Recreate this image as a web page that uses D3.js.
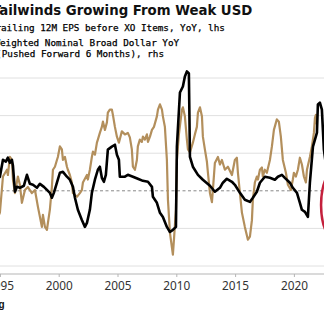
<!DOCTYPE html>
<html><head><meta charset="utf-8">
<script src="https://cdn.jsdelivr.net/npm/d3@7"></script>
<style>html,body{margin:0;padding:0;background:#fff;overflow:hidden}svg{display:block}</style>
</head><body>
<script>
const title = "Tailwinds Growing From Weak USD";
const legendLines = ["Trailing 12M EPS before XO Items, YoY, lhs", "Weighted Nominal Broad Dollar YoY", "(Pushed Forward 6 Months), rhs"];
const source = "Source: Bloomberg";
const xTicks = [1995, 2000, 2005, 2010, 2015, 2020, 2025];
const lhsTicks = [-40, -20, 0, 20, 40, 60];

const epsYears = [1994.74,1995.00,1995.26,1995.51,1995.68,1995.85,1996.02,1996.11,1996.28,1996.45,1996.70,1997.04,1997.30,1997.55,1997.81,1998.15,1998.40,1998.74,1999.00,1999.25,1999.42,1999.59,1999.85,2000.10,2000.36,2000.70,2000.95,2001.21,2001.38,2001.63,2001.97,2002.23,2002.40,2002.65,2002.82,2003.08,2003.33,2003.50,2003.67,2003.84,2004.01,2004.18,2004.52,2004.78,2004.95,2005.12,2005.20,2005.63,2005.88,2006.31,2006.73,2007.16,2007.59,2007.93,2008.01,2008.35,2008.61,2008.86,2009.20,2009.46,2009.71,2009.97,2010.05,2010.31,2010.56,2010.73,2010.90,2011.07,2011.16,2011.41,2011.84,2012.26,2012.86,2013.28,2013.71,2013.96,2014.30,2014.73,2014.98,2015.41,2015.83,2016.26,2016.51,2016.85,2017.11,2017.53,2017.96,2018.38,2018.64,2018.98,2019.23,2019.66,2019.91,2020.26,2020.51,2020.68,2020.94,2021.19,2021.36,2021.62,2021.96,2022.04,2022.21,2022.38,2022.55,2022.72];
const epsValues = [5.9,7.5,16.5,15.5,17.6,14.9,16.5,13.3,-0.5,2.1,1.6,2.7,8.5,3.7,3.2,1.6,3.7,2.1,0.5,-1.1,-3.7,-1.1,4.3,9.6,10.1,7.5,5.9,2.1,-3.7,-10.1,-15.5,-19.2,-17.1,-10.1,-1.1,5.9,11.2,12.8,6.9,4.8,8.5,21.9,23.5,24.5,19.2,16.5,7.5,7.5,8.5,7.5,6.4,5.3,4.8,2.1,-3.2,-6.4,-11.7,-13.9,-19.2,-21.9,-20.8,-19.2,23.5,52.3,55.5,60.8,63.5,62.4,18.1,12.8,8.5,5.9,2.7,-0.5,1.6,4.3,6.4,4.8,3.2,-1.1,-4.8,-5.9,-3.7,-0.5,4.3,7.5,6.9,5.9,7.5,8.5,6.9,4.3,1.6,-1.1,-6.4,-10.1,-11.2,-13.9,4.3,23.5,30.9,45.9,46.9,43.2,21.9,13.9];

const usdYears = [1994.74,1995.00,1995.26,1995.60,1995.68,1995.85,1996.02,1996.11,1996.28,1996.53,1996.70,1996.87,1997.13,1997.38,1997.72,1997.98,1998.23,1998.57,1998.66,1998.83,1999.00,1999.08,1999.25,1999.42,1999.51,1999.68,1999.85,1999.93,2000.10,2000.27,2000.36,2000.53,2000.70,2000.78,2000.95,2001.12,2001.21,2001.55,2001.80,2001.97,2002.06,2002.40,2002.48,2002.65,2002.82,2002.91,2003.08,2003.25,2003.33,2003.50,2003.67,2003.76,2003.93,2004.10,2004.18,2004.35,2004.52,2004.61,2004.78,2004.95,2005.12,2005.37,2005.63,2005.88,2006.05,2006.22,2006.31,2006.48,2006.65,2006.73,2006.90,2007.07,2007.16,2007.33,2007.50,2007.59,2007.76,2007.93,2008.10,2008.35,2008.44,2008.61,2008.78,2008.86,2009.03,2009.20,2009.29,2009.46,2009.71,2009.80,2009.97,2010.05,2010.22,2010.48,2010.56,2010.73,2010.90,2010.99,2011.16,2011.41,2011.58,2011.75,2011.84,2012.01,2012.18,2012.26,2012.43,2012.60,2012.69,2012.86,2013.03,2013.11,2013.28,2013.54,2013.71,2013.88,2014.13,2014.39,2014.73,2014.98,2015.15,2015.24,2015.41,2015.58,2015.83,2016.09,2016.26,2016.43,2016.51,2016.68,2016.85,2016.94,2017.11,2017.28,2017.36,2017.53,2017.70,2017.96,2018.13,2018.30,2018.55,2018.72,2018.89,2019.06,2019.32,2019.49,2019.74,2019.91,2020.00,2020.17,2020.34,2020.51,2020.68,2020.85,2021.02,2021.11,2021.36,2021.53,2021.70,2021.79,2021.87,2021.96];
const usdValues = [-3.9,-2.9,1.9,2.8,2.1,4.5,4.1,1.5,-0.3,1.9,0.8,-1.6,0.1,0.5,-0.3,0.1,-2.1,-4.8,-3.2,-4.8,-5.2,-4.3,-2.5,0.5,2.8,3.2,4.1,4.5,5.9,5.5,4.1,4.5,3.2,2.8,2.1,1.1,-0.3,-0.8,-0.3,0.1,1.1,2.1,1.5,2.8,4.5,5.2,4.8,6.4,6.8,7.7,8.5,9.2,8.1,9.1,10.4,10.8,10.8,10.1,8.5,7.2,6.4,7.9,7.5,7.7,7.1,5.5,3.2,2.8,4.1,5.9,6.8,6.5,7.2,6.8,7.5,6.5,7.2,8.1,8.5,9.9,10.8,11.5,10.8,9.9,8.5,4.1,-1.2,-5.6,-8.5,-6.5,-2.5,4.1,7.5,10.8,11.1,9.9,6.8,5.5,5.1,6.4,7.5,8.5,10.4,11.1,9.9,7.2,5.5,3.9,2.4,-0.3,-1.5,0.1,3.7,4.5,3.5,4.1,2.8,3.2,2.1,4.1,4.4,2.4,-0.3,-2.9,-4.8,-6.5,-6.1,-3.9,-1.2,1.1,1.9,1.5,2.8,3.1,1.9,2.8,2.4,4.1,5.9,8.1,9.5,9.2,7.2,4.1,2.4,0.8,0.1,1.5,2.4,1.9,2.8,4.4,3.5,1.9,1.1,2.8,4.5,5.9,7.7,9.7,10.1,8.8];

const W = 324, H = 321;
const svg = d3.select("body").append("svg").attr("width", W).attr("height", H);

const x = d3.scaleLinear().domain([1995, 2020]).range([-0.1, 293.9]);
const yL = d3.scaleLinear().domain([-40, 60]).range([266, 78]);
const yR = d3.scaleLinear().domain([-10, 15]).range([266, 78]);

// title & legend
svg.append("text").attr("x", -8.1).attr("y", 14.5)
  .attr("font-family", "DejaVu Sans").attr("font-weight", "bold").attr("font-size", 13.3)
  .attr("fill", "#111").text(title);
const legX = [-10.2, -5.6, -3.9], legY = [30.5, 45.5, 56.5];
legendLines.forEach((t, i) => {
  svg.append("text").attr("x", legX[i]).attr("y", legY[i])
    .attr("font-family", "DejaVu Sans Mono").attr("font-size", 9.3)
    .attr("fill", "#000").attr("stroke", "#000").attr("stroke-width", 0.25).text(t);
});

// grid
const g = svg.append("g");
g.selectAll("line.grid").data(lhsTicks.filter(d => d !== 0)).join("line")
  .attr("x1", -10).attr("x2", W + 10)
  .attr("y1", d => yL(d)).attr("y2", d => yL(d))
  .attr("stroke", "#e0e0e0").attr("stroke-width", 1);
g.append("line").attr("x1", -10).attr("x2", W + 10)
  .attr("y1", yL(0)).attr("y2", yL(0))
  .attr("stroke", "#7a7a7a").attr("stroke-width", 0.9).attr("stroke-dasharray", "3,2.5");

// x axis
const axisY = 274;
const xAxis = d3.axisBottom(x).tickValues(xTicks).tickFormat(d3.format("d")).tickSize(3).tickPadding(5);
const ax = svg.append("g").attr("transform", `translate(0,${axisY})`).call(xAxis);
ax.select(".domain").attr("stroke", "#b5b5b5").attr("d", `M-10,0H${W+10}`);
ax.selectAll(".tick line").attr("stroke", "#b5b5b5");
ax.selectAll(".tick text").attr("font-family", "Noto Sans").attr("font-size", 11.8).attr("fill", "#333");

// lines
const usd = usdYears.map((t, i) => [t, usdValues[i]]);
const eps = epsYears.map((t, i) => [t, epsValues[i]]);
svg.append("path").datum(usd)
  .attr("d", d3.line().x(d => x(d[0])).y(d => yR(d[1])))
  .attr("fill", "none").attr("stroke", "#b38f5c").attr("stroke-width", 2.2).attr("stroke-linejoin", "round");
svg.append("path").datum(eps)
  .attr("d", d3.line().x(d => x(d[0])).y(d => yL(d[1])))
  .attr("fill", "none").attr("stroke", "#000").attr("stroke-width", 2.6).attr("stroke-linejoin", "round");

// red annotation ellipse
svg.append("ellipse").attr("cx", x(2023.5)).attr("cy", yL(-7.5)).attr("rx", 14).attr("ry", 35)
  .attr("fill", "none").attr("stroke", "#c4203c").attr("stroke-width", 2.5);

// source
svg.append("text").attr("x", 4.6).attr("y", 307.5).attr("text-anchor", "end")
  .attr("font-family", "Liberation Sans").attr("font-weight", "bold").attr("font-size", 10)
  .attr("fill", "#111").text(source);
</script>
</body></html>
